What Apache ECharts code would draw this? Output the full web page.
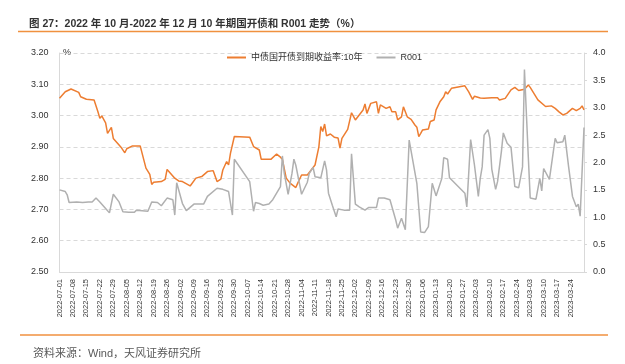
<!DOCTYPE html>
<html><head><meta charset="utf-8">
<script src="https://cdn.jsdelivr.net/npm/echarts@6/dist/echarts.min.js"></script>
<style>html,body{margin:0;padding:0;background:#fff}#c{width:625px;height:364px}</style>
</head><body><div id="c"></div>
<script>
var titleText = '图 27：2022 年 10 月-2022 年 12 月 10 年期国开债和 R001 走势（%）';
var sourceText = '资料来源：Wind，天风证券研究所';
var seriesNames = ['中债国开债到期收益率:10年', 'R001'];
var startDate = '2022-07-01';
var endDate = '2023-03-31';
var leftTicks = {min: 2.5, max: 3.2, step: 0.1};
var rightTicks = {min: 0, max: 4, step: 0.5};

var rateDates = ['2022-07-01','2022-07-04','2022-07-05','2022-07-07','2022-07-11','2022-07-12','2022-07-15','2022-07-19','2022-07-21','2022-07-22','2022-07-23','2022-07-25','2022-07-26','2022-07-27','2022-07-28','2022-07-29','2022-08-01','2022-08-02','2022-08-04','2022-08-05','2022-08-08','2022-08-12','2022-08-15','2022-08-17','2022-08-18','2022-08-19','2022-08-23','2022-08-25','2022-08-26','2022-08-30','2022-09-01','2022-09-03','2022-09-07','2022-09-10','2022-09-13','2022-09-16','2022-09-19','2022-09-21','2022-09-23','2022-09-24','2022-09-26','2022-09-27','2022-09-28','2022-09-30','2022-10-08','2022-10-10','2022-10-11','2022-10-13','2022-10-14','2022-10-19','2022-10-22','2022-10-24','2022-10-25','2022-10-27','2022-10-29','2022-11-01','2022-11-02','2022-11-04','2022-11-07','2022-11-08','2022-11-11','2022-11-13','2022-11-14','2022-11-15','2022-11-16','2022-11-17','2022-11-19','2022-11-21','2022-11-23','2022-11-24','2022-11-25','2022-11-28','2022-11-30','2022-12-02','2022-12-04','2022-12-06','2022-12-07','2022-12-08','2022-12-10','2022-12-13','2022-12-14','2022-12-15','2022-12-18','2022-12-20','2022-12-21','2022-12-23','2022-12-24','2022-12-26','2022-12-27','2022-12-29','2022-12-31','2023-01-02','2023-01-03','2023-01-04','2023-01-05','2023-01-06','2023-01-09','2023-01-10','2023-01-12','2023-01-13','2023-01-15','2023-01-17','2023-01-18','2023-01-19','2023-01-21','2023-01-28','2023-01-30','2023-02-01','2023-02-02','2023-02-05','2023-02-07','2023-02-08','2023-02-11','2023-02-14','2023-02-15','2023-02-18','2023-02-21','2023-02-22','2023-02-23','2023-02-25','2023-02-28','2023-03-02','2023-03-03','2023-03-07','2023-03-11','2023-03-14','2023-03-16','2023-03-18','2023-03-20','2023-03-22','2023-03-25','2023-03-27','2023-03-29','2023-03-30','2023-03-31'];
var rateValues = [3.055,3.076,3.071,3.085,3.074,3.060,3.052,3.050,3.012,2.991,2.999,2.977,2.943,2.945,2.962,2.927,2.906,2.899,2.881,2.894,2.903,2.903,2.832,2.812,2.780,2.787,2.789,2.796,2.828,2.800,2.791,2.789,2.775,2.800,2.805,2.821,2.824,2.789,2.797,2.826,2.853,2.842,2.880,2.933,2.931,2.901,2.906,2.890,2.860,2.860,2.877,2.867,2.860,2.800,2.784,2.770,2.784,2.810,2.810,2.807,2.842,2.900,2.965,2.949,2.973,2.935,2.941,2.931,2.928,2.896,2.927,2.956,3.009,2.986,3.002,3.018,3.037,3.007,3.039,3.044,3.007,3.034,3.023,3.028,3.012,3.012,2.986,2.996,3.028,2.996,2.988,2.970,2.963,2.933,2.943,2.954,2.957,2.981,2.986,3.018,3.044,3.060,3.076,3.069,3.087,3.095,3.076,3.052,3.062,3.056,3.055,3.052,3.057,3.057,3.050,3.055,3.082,3.082,3.090,3.080,3.084,3.098,3.090,3.050,3.029,3.031,3.023,3.012,3.002,3.007,3.023,3.016,3.023,3.031,3.018];

var r001Dates = ['2022-07-01','2022-07-04','2022-07-05','2022-07-06','2022-07-10','2022-07-13','2022-07-14','2022-07-16','2022-07-18','2022-07-20','2022-07-22','2022-07-25','2022-07-27','2022-07-28','2022-07-29','2022-08-01','2022-08-03','2022-08-06','2022-08-09','2022-08-10','2022-08-11','2022-08-16','2022-08-18','2022-08-21','2022-08-23','2022-08-24','2022-08-26','2022-08-29','2022-08-30','2022-08-31','2022-09-01','2022-09-03','2022-09-05','2022-09-09','2022-09-14','2022-09-16','2022-09-21','2022-09-24','2022-09-27','2022-09-29','2022-09-30','2022-10-08','2022-10-10','2022-10-11','2022-10-13','2022-10-14','2022-10-15','2022-10-18','2022-10-19','2022-10-20','2022-10-24','2022-10-25','2022-10-26','2022-10-28','2022-10-30','2022-10-31','2022-11-01','2022-11-04','2022-11-07','2022-11-08','2022-11-10','2022-11-11','2022-11-14','2022-11-16','2022-11-17','2022-11-18','2022-11-20','2022-11-22','2022-11-23','2022-11-26','2022-11-29','2022-11-30','2022-12-02','2022-12-04','2022-12-07','2022-12-09','2022-12-13','2022-12-14','2022-12-17','2022-12-20','2022-12-23','2022-12-24','2022-12-26','2022-12-28','2022-12-29','2022-12-30','2023-01-03','2023-01-05','2023-01-07','2023-01-09','2023-01-11','2023-01-13','2023-01-16','2023-01-17','2023-01-19','2023-01-20','2023-01-28','2023-01-29','2023-01-31','2023-02-02','2023-02-04','2023-02-05','2023-02-06','2023-02-07','2023-02-09','2023-02-10','2023-02-11','2023-02-13','2023-02-14','2023-02-16','2023-02-17','2023-02-19','2023-02-21','2023-02-23','2023-02-25','2023-02-27','2023-02-28','2023-03-02','2023-03-03','2023-03-06','2023-03-08','2023-03-09','2023-03-10','2023-03-13','2023-03-16','2023-03-17','2023-03-20','2023-03-21','2023-03-23','2023-03-25','2023-03-27','2023-03-28','2023-03-29','2023-03-30','2023-03-31'];
var r001Values = [1.50,1.47,1.41,1.27,1.28,1.27,1.24,1.28,1.28,1.35,1.28,1.16,1.08,1.10,1.42,1.28,1.10,1.09,1.09,1.13,1.11,1.11,1.28,1.27,1.21,1.19,1.35,1.32,1.04,1.63,1.60,1.25,1.12,1.24,1.24,1.38,1.53,1.51,1.47,1.04,2.06,1.65,1.11,1.27,1.25,1.27,1.22,1.24,1.21,1.32,1.56,2.12,1.80,1.42,1.80,2.06,1.95,1.42,1.64,1.80,1.91,1.74,1.72,2.03,1.86,1.44,1.22,1.01,1.15,1.13,1.13,2.16,1.24,1.19,1.13,1.18,1.18,1.35,1.35,1.32,0.95,0.80,0.98,0.77,0.74,2.41,1.62,0.73,0.72,0.83,1.62,1.39,1.71,2.09,2.06,1.72,1.44,1.19,2.42,1.95,1.38,1.71,1.92,2.50,2.60,2.44,1.88,1.51,1.65,2.20,2.54,2.35,2.28,1.56,1.54,1.92,3.70,2.11,1.35,1.33,1.71,1.48,1.89,1.69,2.44,2.36,2.38,2.50,1.92,1.38,1.19,1.24,1.02,1.04,2.64];

function dayMs(s){var p=s.split('-');return Date.UTC(+p[0],+p[1]-1,+p[2]);}
var base = dayMs(startDate);
function idx(s){return Math.round((dayMs(s)-base)/86400000);}
function dateLabel(d){var t=new Date(base+d*86400000);var m=t.getUTCMonth()+1,dd=t.getUTCDate();return t.getUTCFullYear()+'-'+(m<10?'0':'')+m+'-'+(dd<10?'0':'')+dd;}
var endIdx = idx(endDate);
var rateData = rateDates.map(function(d,i){return [idx(d), rateValues[i]];});
var r001Data = r001Dates.map(function(d,i){return [idx(d), r001Values[i]];});

var FONT = '"Liberation Sans", Arial, "Noto Sans CJK SC", sans-serif';
var chart = echarts.init(document.getElementById('c'), null, {renderer:'canvas'});
chart.setOption({
  animation:false,
  backgroundColor:'#fff',
  textStyle:{fontFamily:FONT},
  title:[
    {text:titleText,left:24,top:14,textStyle:{fontSize:10.5,fontWeight:'bold',color:'#333',fontFamily:FONT}},
    {text:sourceText,left:28,top:343,textStyle:{fontSize:11,fontWeight:'normal',color:'#595959',fontFamily:FONT}}
  ],
  graphic:[
    {type:'line',shape:{x1:18,y1:31.5,x2:608,y2:31.5},style:{stroke:'#F0913F',lineWidth:1.5},silent:true},
    {type:'line',shape:{x1:20,y1:335,x2:608,y2:335},style:{stroke:'#F0913F',lineWidth:1.5},silent:true},
    {type:'text',left:63,top:48,style:{text:'%',fontSize:9,fill:'#333',fontFamily:FONT},silent:true}
  ],
  legend:{
    left:222,top:48,itemWidth:19,itemHeight:2,itemGap:14,icon:'rect',
    textStyle:{fontSize:9,color:'#333',fontFamily:FONT},
    data:seriesNames
  },
  grid:{left:59.5,right:41,top:53,bottom:92,containLabel:false},
  xAxis:{
    type:'value',min:0,max:endIdx,interval:7,
    axisLine:{show:true,lineStyle:{color:'#D9D9D9',width:1}},
    axisTick:{show:false},
    splitLine:{show:false},
    axisLabel:{rotate:90,fontSize:7.5,color:'#333',margin:7,showMaxLabel:true,
      formatter:function(v){return (v%7===0 && v<endIdx)?dateLabel(v):'';}}
  },
  yAxis:[
    {type:'value',min:leftTicks.min,max:leftTicks.max,interval:leftTicks.step,
      axisLine:{show:true,lineStyle:{color:'#D9D9D9'}},axisTick:{show:false},
      splitLine:{show:true,lineStyle:{color:'#D9D9D9',type:[4,3],width:1}},
      axisLabel:{fontSize:9,color:'#333',margin:11,formatter:function(v){return v.toFixed(2);}}},
    {type:'value',min:rightTicks.min,max:rightTicks.max,interval:rightTicks.step,position:'right',
      axisLine:{show:true,lineStyle:{color:'#D9D9D9'}},axisTick:{show:true,length:3,lineStyle:{color:'#D9D9D9'}},
      splitLine:{show:false},
      axisLabel:{fontSize:9,color:'#333',margin:9,formatter:function(v){return v.toFixed(1);}}}
  ],
  series:[
    {name:seriesNames[0],type:'line',yAxisIndex:0,data:rateData,showSymbol:false,symbol:'none',
      lineStyle:{color:'#ED7D31',width:1.5},itemStyle:{color:'#ED7D31'}},
    {name:seriesNames[1],type:'line',yAxisIndex:1,data:r001Data,showSymbol:false,symbol:'none',
      lineStyle:{color:'#B0B0B0',width:1.5},itemStyle:{color:'#B0B0B0'}}
  ]
});
</script></body></html>
